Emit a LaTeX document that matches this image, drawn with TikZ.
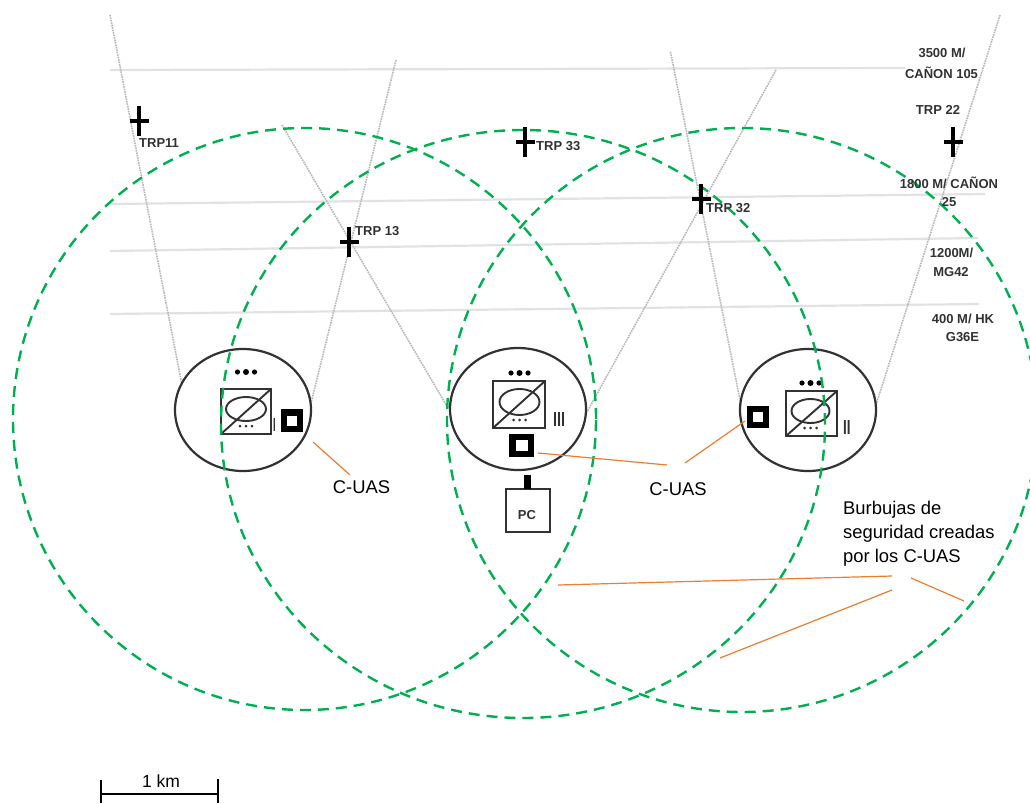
\documentclass[tikz,border=0pt]{standalone}
\usepackage{graphicx}
\usepackage{fontspec}
\setmainfont{Liberation Sans}
\usetikzlibrary{shapes.geometric}
\definecolor{bubble}{RGB}{0,176,80}
\definecolor{callout}{RGB}{237,125,49}
\definecolor{rangeline}{RGB}{226,226,226}
\definecolor{fireline}{RGB}{185,185,185}
\definecolor{ink}{RGB}{50,50,50}
\tikzset{
  bubblecircle/.style={draw=bubble,line width=2.4pt,dash pattern=on 11pt off 7pt},
  position/.style={draw=ink,line width=2.2pt,ellipse,inner sep=0pt,minimum width=136pt,minimum height=122pt},
  rangebar/.style={draw=rangeline,line width=2.2pt},
  firebar/.style={draw=fireline,line width=1.6pt,dash pattern=on 1.6pt off 0.9pt},
  calloutline/.style={draw=callout,line width=1.2pt},
  weapon/.style={draw=ink,line width=1.9pt},
  dotmark/.style={fill=black},
  trp/.style={font=\bfseries\fontsize{13}{15}\selectfont,text=ink,inner sep=0pt},
  plain/.style={font=\fontsize{18.4}{24}\selectfont,text=black,inner sep=0pt},
  numeral/.style={text=ink,inner sep=0pt,font=\bfseries},
  crosspath/.style={draw=black,line width=3.6pt},
  scalebar/.style={draw=black,line width=1.6pt},
  cuasouter/.style={fill=black},
  cuasinner/.style={fill=white},
}
\newcommand{\trpcross}[2]{%
  \fill[black] (#1-1.6,#2-15) rectangle (#1+1.6,#2+15);
  \fill[black] (#1-9.5,#2-1.6) rectangle (#1+9.5,#2+1.6);}
\newcommand{\weaponsym}[9]{% x0 y0 x1 y1 ex ey erx ery dy
  \draw[weapon] (#1,#2) rectangle (#3,#4);
  \draw[weapon] (#1,#4) -- (#3,#2);
  \draw[weapon] (#5,#6) ellipse [x radius=#7,y radius=#8];
  \fill[dotmark] (#5-8.5,#9) circle (2.6pt) (#5,#9) circle (3pt) (#5+8.5,#9) circle (2.6pt);
  \fill[ink] (#5-6,#4-8) circle (1.5pt) (#5,#4-8) circle (1.5pt) (#5+6,#4-8) circle (1.5pt);
}
\begin{document}
\begin{tikzpicture}[x=1pt,y=-1pt]
\useasboundingbox[fill=white] (0,0) rectangle (1030,803);
% range bars
\coordinate (ra1) at (110,70); \coordinate (ra2) at (905,68);
\coordinate (rb1) at (110,204); \coordinate (rb2) at (985,194);
\coordinate (rc1) at (110,251); \coordinate (rc2) at (978,238);
\coordinate (rd1) at (110,314); \coordinate (rd2) at (979,304);
\draw[rangebar] (ra1) -- (ra2);
\draw[rangebar] (rb1) -- (rb2);
\draw[rangebar] (rc1) -- (rc2);
\draw[rangebar] (rd1) -- (rd2);
% fire sector lines
\coordinate (fa1) at (110,15); \coordinate (fa2) at (182,385);
\coordinate (fb1) at (396,60); \coordinate (fb2) at (311,403);
\coordinate (fc1) at (282,125); \coordinate (fc2) at (448,408);
\coordinate (fd1) at (776,70); \coordinate (fd2) at (587,412);
\coordinate (fe1) at (670.5,52); \coordinate (fe2) at (741,405);
\coordinate (ff1) at (1000,15); \coordinate (ff2) at (875,408);
\draw[firebar] (fa1) -- (fa2);
\draw[firebar] (fb1) -- (fb2);
\draw[firebar] (fc1) -- (fc2);
\draw[firebar] (fd1) -- (fd2);
\draw[firebar] (fe1) -- (fe2);
\draw[firebar] (ff1) -- (ff2);
% positions
\node[position] (posI) at (243,410) {};
\node[position] (posIII) at (518,409) {};
\node[position] (posII) at (808,410) {};
% weapon symbols
\weaponsym{221}{389}{271}{434}{246}{409}{20}{12}{372}
\weaponsym{493}{381}{545}{428}{519.5}{402}{20}{13}{373}
\weaponsym{786}{391}{837}{436}{810.5}{411}{19}{12}{383}
\node[numeral,anchor=west] (numI) at (273,424.5) {\resizebox{2.6pt}{13pt}{I}};
\node[numeral,anchor=west] (numIII) at (553,419) {\resizebox{12pt}{14pt}{III}};
\node[numeral,anchor=west] (numII) at (843,427) {\resizebox{7.5pt}{14pt}{II}};
% C-UAS markers
\fill[cuasouter] (281,409) rectangle (303,432);
\fill[cuasinner] (287,416) rectangle (297,426);
\fill[cuasouter] (509,434) rectangle (534,457);
\fill[cuasinner] (516,440) rectangle (528,451);
\fill[cuasouter] (747,406) rectangle (769,428);
\fill[cuasinner] (753,412) rectangle (763,422);
% command post
\node[draw=ink,line width=1.9pt,minimum width=44pt,minimum height=43pt,inner sep=0pt] (pc) at (528,510.5) {};
\node[trp] (pclabel) at (527,515) {PC};
\fill[black] (523.5,475) rectangle (530.5,489);
% bubbles
\node[bubblecircle,ellipse,inner sep=0pt,minimum width=583pt,minimum height=582pt] (bubI) at (304.5,419) {};
\node[bubblecircle,ellipse,inner sep=0pt,minimum width=604pt,minimum height=588pt] (bubIII) at (523,424) {};
\node[bubblecircle,ellipse,inner sep=0pt,minimum width=590pt,minimum height=584pt] (bubII) at (742,420) {};
% TRP crosses
\trpcross{139}{121}
\trpcross{349}{242}
\trpcross{525}{142}
\trpcross{701}{199}
\trpcross{953}{142}
% TRP and range labels
\node[trp,anchor=west] (t11) at (139,143) {TRP11};
\node[trp,anchor=west] (t13) at (355,231) {TRP 13};
\node[trp,anchor=west] (t33) at (536,146) {TRP 33};
\node[trp,anchor=west] (t32) at (706,208) {TRP 32};
\node[trp] (r1a) at (942,53) {3500 M/};
\node[trp] (r1b) at (941.5,73) {CAÑON 105};
\node[trp] (t22) at (938,110) {TRP 22};
\node[trp] (r2a) at (949,183) {1800 M/ CAÑON};
\node[trp] (r2b) at (949,202) {25};
\node[trp] (r3a) at (951.5,253) {1200M/};
\node[trp] (r3b) at (951,272) {MG42};
\node[trp] (r4a) at (963,319) {400 M/ HK};
\node[trp] (r4b) at (962.5,337) {G36E};
% callouts
\node[plain] (cuasA) at (361.5,487) {C-UAS};
\node[plain] (cuasB) at (678,489) {C-UAS};
\node[plain,anchor=north west,align=left] (bubtxt) at (843,501) {Burbujas de\\seguridad creadas\\por los C-UAS};
\coordinate (ca1) at (313,442); \coordinate (ca2) at (350,475);
\coordinate (cb1) at (538,453); \coordinate (cb2) at (667,465);
\coordinate (cc1) at (685,463); \coordinate (cc2) at (745,421);
\coordinate (cd1) at (558,585); \coordinate (cd2) at (892,576);
\coordinate (ce1) at (720,658); \coordinate (ce2) at (892,590);
\coordinate (cf1) at (911,578); \coordinate (cf2) at (964,601);
\draw[calloutline] (ca1) -- (ca2);
\draw[calloutline] (cb1) -- (cb2);
\draw[calloutline] (cc1) -- (cc2);
\draw[calloutline] (cd1) -- (cd2);
\draw[calloutline] (ce1) -- (ce2);
\draw[calloutline] (cf1) -- (cf2);
% scale
\coordinate (s1) at (100.7,794); \coordinate (s2) at (218,794);
\draw[scalebar] (s1) -- (s2);
\draw[scalebar] (100.7,780) -- (100.7,803);
\draw[scalebar] (218,779) -- (218,803);
\node[plain,font=\fontsize{17.5}{20}\selectfont] (km) at (161,781) {1 km};
\end{tikzpicture}
\end{document}
